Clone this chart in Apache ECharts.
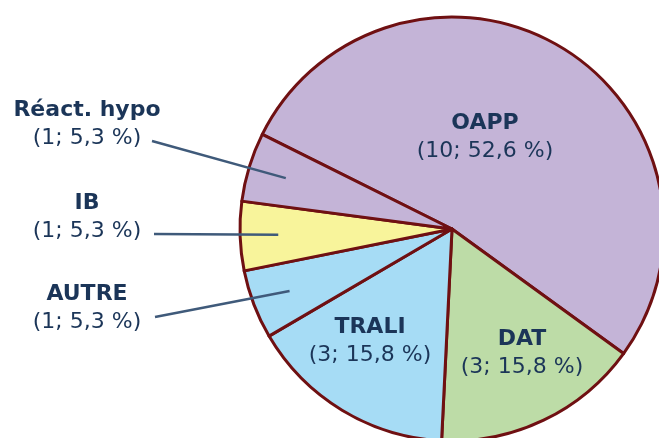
<!DOCTYPE html>
<html>
<head>
<meta charset="utf-8">
<script src="https://cdn.jsdelivr.net/npm/echarts@6/dist/echarts.min.js"></script>
<style>
  html, body { margin: 0; padding: 0; background: #fff; }
  #chart { width: 659px; height: 438px; }
</style>
</head>
<body>
<div id="chart"></div>
<script>
// data, clockwise from the start angle
const categories = ['OAPP', 'DAT', 'TRALI', 'AUTRE', 'IB', 'Réact. hypo']
const counts = [10, 3, 3, 1, 1, 1]
const colors = ['#c4b4d7', '#bddca7', '#a6dcf5', '#a6dcf5', '#f8f49b', '#c4b4d7']

// layout
const CX = 452
const CY = 229
const R = 212
const START = 153.5
const textColor = '#1b3558'
const labelPos = {
  'OAPP': [485, 137],
  'DAT': [522, 353],
  'TRALI': [370, 341],
  'AUTRE': [87, 308],
  'IB': [87, 217],
  'Réact. hypo': [87, 124],
}
const lineEnd = {
  'AUTRE': [155, 317],
  'IB': [154, 234],
  'Réact. hypo': [152, 141],
}

const total = counts.reduce((a, b) => a + b, 0)

function pct(v) {
  return (v / total * 100).toFixed(1).replace('.', ',')
}

function isOutside(i) {
  return counts[i] / total < 0.1
}

const labelStyle = {
  formatter: p => '{b|' + p.name + '}\n{v|(' + p.value + '; ' + pct(p.value) + ' %)}',
  rich: {
    b: { fontFamily: 'DejaVu Sans', fontWeight: 'bold', fontSize: 22, lineHeight: 28, color: textColor },
    v: { fontFamily: 'DejaVu Sans', fontSize: 22, lineHeight: 28, color: textColor },
  },
}

function layoutLabel(p) {
  const name = categories[p.dataIndex]
  const pos = labelPos[name]
  const out = { x: pos[0], y: pos[1], align: 'center', verticalAlign: 'middle' }
  if (lineEnd[name] && p.labelLinePoints) {
    const e = lineEnd[name]
    out.labelLinePoints = [p.labelLinePoints[0], e, e]
  }
  return out
}

const chart = echarts.init(document.getElementById('chart'), null, { renderer: 'canvas' })

chart.setOption({
  animation: false,
  series: [
    {
      // the coloured slices, with the inside labels
      type: 'pie',
      center: [CX, CY],
      radius: [0, R],
      startAngle: START,
      avoidLabelOverlap: false,
      itemStyle: { borderColor: '#6f1012', borderWidth: 3 },
      label: Object.assign({ position: 'inside' }, labelStyle),
      labelLayout: layoutLabel,
      data: categories.map((name, i) => ({
        name: name,
        value: counts[i],
        itemStyle: { color: colors[i] },
        label: { show: !isOutside(i) },
      })),
    },
    {
      // transparent copy, smaller, carrying the callout labels
      type: 'pie',
      z: 5,
      silent: true,
      center: [CX, CY],
      radius: [0, R * 0.82],
      startAngle: START,
      avoidLabelOverlap: false,
      itemStyle: { color: 'rgba(0,0,0,0)', borderWidth: 0 },
      label: Object.assign({ position: 'outside' }, labelStyle),
      labelLine: { show: true, showAbove: true, lineStyle: { color: '#3f5a7a', width: 2.5 } },
      labelLayout: layoutLabel,
      data: categories.map((name, i) => ({
        name: name,
        value: counts[i],
        label: { show: isOutside(i) },
        labelLine: { show: isOutside(i) },
      })),
    },
  ],
})
</script>
</body>
</html>
